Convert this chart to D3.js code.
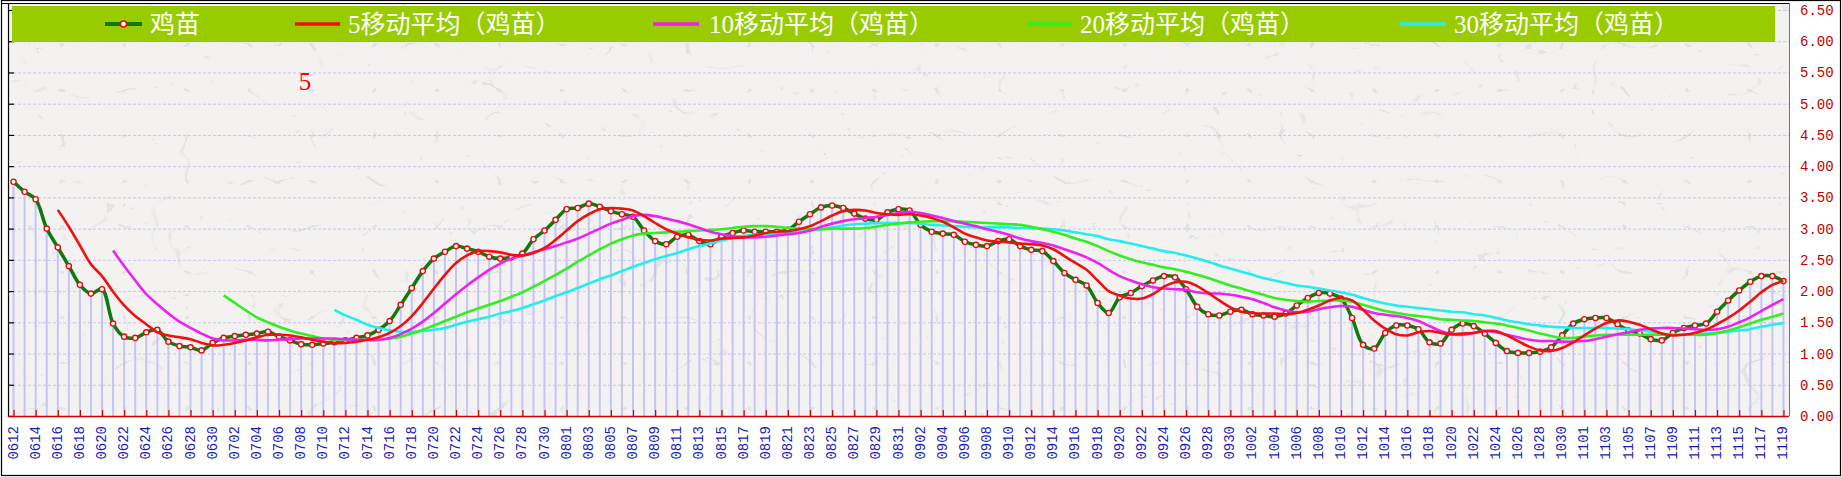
<!DOCTYPE html>
<html><head><meta charset="utf-8">
<script src="https://cdn.jsdelivr.net/npm/d3@7/dist/d3.min.js"></script>
<style>html,body{margin:0;padding:0;background:#fff;}svg{display:block;}</style>
</head><body>
<svg id="chart" width="1842" height="477"></svg>
<script>
// ---------------- data ----------------
const dates = [
"0612","0613","0614","0615","0616","0617","0618","0619","0620","0621","0622","0623","0624","0625","0626","0627","0628","0629","0630",
"0701","0702","0703","0704","0705","0706","0707","0708","0709","0710","0711","0712","0713","0714","0715","0716","0717","0718","0719","0720","0721","0722","0723","0724","0725","0726","0727","0728","0729","0730","0731",
"0801","0802","0803","0804","0805","0806","0807","0808","0809","0810","0811","0812","0813","0814","0815","0816","0817","0818","0819","0820","0821","0822","0823","0824","0825","0826","0827","0828","0829","0830","0831",
"0901","0902","0903","0904","0905","0906","0907","0908","0909","0910","0911","0912","0913","0914","0915","0916","0917","0918","0919","0920","0921","0922","0923","0924","0925","0926","0927","0928","0929","0930",
"1001","1002","1003","1004","1005","1006","1007","1008","1009","1010","1011","1012","1013","1014","1015","1016","1017","1018","1019","1020","1021","1022","1023","1024","1025","1026","1027","1028","1029","1030","1031",
"1101","1102","1103","1104","1105","1106","1107","1108","1109","1110","1111","1112","1113","1114","1115","1116","1117","1118","1119"];

const seedling = [
3.75,3.59,3.47,3.00,2.70,2.40,2.10,1.96,2.03,1.48,
1.27,1.25,1.34,1.38,1.19,1.12,1.10,1.05,1.17,1.25,
1.28,1.30,1.32,1.35,1.27,1.21,1.15,1.14,1.16,1.18,
1.21,1.25,1.29,1.38,1.52,1.78,2.05,2.32,2.52,2.63,
2.72,2.68,2.63,2.55,2.52,2.54,2.60,2.83,2.97,3.14,
3.31,3.33,3.40,3.35,3.28,3.23,3.19,2.97,2.80,2.75,
2.87,2.90,2.80,2.75,2.87,2.93,2.97,2.95,2.95,2.95,
2.98,3.11,3.23,3.34,3.37,3.33,3.24,3.16,3.14,3.26,
3.31,3.29,3.06,2.95,2.92,2.90,2.79,2.74,2.72,2.80,
2.83,2.72,2.66,2.64,2.48,2.29,2.18,2.09,1.81,1.65,
1.90,1.97,2.08,2.17,2.24,2.22,2.03,1.75,1.63,1.61,
1.67,1.70,1.63,1.61,1.59,1.64,1.77,1.89,1.97,1.96,
1.88,1.57,1.14,1.08,1.33,1.45,1.45,1.39,1.18,1.16,
1.38,1.48,1.44,1.32,1.17,1.04,1.01,1.01,1.03,1.10,
1.29,1.48,1.55,1.57,1.57,1.47,1.37,1.32,1.23,1.21,
1.33,1.41,1.45,1.48,1.67,1.85,2.01,2.15,2.24,2.24,
2.16];

const ma5 = [null,null,null,null,
3.30,3.03,2.73,2.43,2.24,1.99,
1.77,1.60,1.47,1.34,1.29,1.26,1.23,1.17,1.13,1.14,
1.17,1.21,1.26,1.30,1.30,1.29,1.26,1.22,1.19,1.17,
1.17,1.19,1.22,1.26,1.33,1.44,1.60,1.81,2.04,2.26,
2.45,2.57,2.64,2.64,2.62,2.58,2.57,2.61,2.69,2.82,
2.97,3.12,3.23,3.31,3.33,3.32,3.29,3.20,3.09,2.99,
2.92,2.86,2.82,2.81,2.84,2.85,2.86,2.89,2.93,2.95,
2.96,2.99,3.04,3.12,3.21,3.28,3.30,3.29,3.25,3.23,
3.22,3.23,3.21,3.17,3.11,3.02,2.92,2.86,2.81,2.79,
2.78,2.76,2.75,2.73,2.67,2.56,2.45,2.34,2.17,2.00,
1.93,1.88,1.88,1.95,2.07,2.14,2.15,2.08,1.97,1.85,
1.74,1.67,1.65,1.64,1.64,1.63,1.65,1.70,1.77,1.85,
1.89,1.85,1.70,1.53,1.40,1.31,1.29,1.34,1.36,1.33,
1.31,1.32,1.33,1.36,1.36,1.29,1.20,1.11,1.05,1.04,
1.09,1.18,1.29,1.40,1.49,1.53,1.51,1.46,1.39,1.32,
1.29,1.30,1.33,1.38,1.47,1.57,1.69,1.83,1.98,2.10,2.16];

const ma10 = [null,null,null,null,null,null,null,null,null,
2.65,
2.40,2.17,1.95,1.79,1.64,1.51,1.41,1.32,1.24,1.21,
1.21,1.22,1.22,1.21,1.22,1.23,1.24,1.24,1.24,1.24,
1.23,1.22,1.22,1.22,1.25,1.31,1.40,1.51,1.65,1.80,
1.95,2.09,2.22,2.34,2.44,2.52,2.57,2.62,2.67,2.72,
2.78,2.84,2.92,3.00,3.08,3.14,3.20,3.22,3.20,3.16,
3.12,3.07,3.01,2.95,2.91,2.88,2.86,2.86,2.87,2.89,
2.91,2.93,2.97,3.03,3.08,3.12,3.15,3.17,3.19,3.22,
3.25,3.27,3.25,3.21,3.17,3.12,3.08,3.04,2.99,2.95,
2.90,2.84,2.80,2.77,2.73,2.67,2.61,2.54,2.45,2.34,
2.24,2.17,2.11,2.06,2.04,2.03,2.02,1.98,1.96,1.96,
1.94,1.91,1.87,1.81,1.74,1.69,1.66,1.67,1.71,1.74,
1.76,1.75,1.70,1.65,1.62,1.60,1.57,1.52,1.44,1.36,
1.31,1.30,1.33,1.36,1.34,1.30,1.26,1.22,1.20,1.20,
1.19,1.19,1.20,1.23,1.27,1.31,1.34,1.38,1.40,1.41,
1.41,1.40,1.39,1.38,1.39,1.43,1.50,1.58,1.68,1.78,1.87];

const ma20 = [null,null,null,null,null,null,null,null,null,null,
null,null,null,null,null,null,null,null,null,
1.93,
1.81,1.69,1.58,1.50,1.43,1.37,1.32,1.28,1.24,1.22,
1.22,1.22,1.22,1.22,1.24,1.27,1.32,1.38,1.45,1.52,
1.59,1.66,1.72,1.78,1.84,1.91,1.98,2.07,2.16,2.26,
2.36,2.47,2.57,2.67,2.76,2.83,2.89,2.92,2.93,2.94,
2.95,2.96,2.97,2.98,2.99,3.01,3.03,3.04,3.04,3.03,
3.01,3.00,2.99,2.99,3.00,3.00,3.00,3.01,3.03,3.06,
3.08,3.10,3.11,3.12,3.12,3.12,3.11,3.10,3.09,3.08,
3.07,3.06,3.03,2.99,2.95,2.90,2.84,2.79,2.72,2.64,
2.57,2.51,2.46,2.42,2.38,2.35,2.31,2.26,2.21,2.15,
2.09,2.04,1.99,1.94,1.89,1.86,1.84,1.83,1.84,1.85,
1.85,1.83,1.78,1.73,1.68,1.65,1.62,1.60,1.58,1.55,
1.54,1.53,1.52,1.50,1.48,1.45,1.41,1.37,1.32,1.28,
1.25,1.25,1.27,1.29,1.30,1.30,1.30,1.30,1.30,1.30,
1.30,1.30,1.30,1.30,1.33,1.37,1.42,1.48,1.54,1.59,1.64];

const ma30 = [null,null,null,null,null,null,null,null,null,null,
null,null,null,null,null,null,null,null,null,null,
null,null,null,null,null,null,null,null,null,
1.70,
1.61,1.54,1.46,1.41,1.37,1.35,1.35,1.36,1.38,1.41,
1.46,1.51,1.55,1.59,1.64,1.68,1.73,1.79,1.85,1.92,
1.98,2.05,2.12,2.19,2.25,2.32,2.39,2.45,2.51,2.56,
2.61,2.67,2.72,2.76,2.81,2.85,2.88,2.90,2.91,2.92,
2.93,2.95,2.97,2.99,3.02,3.05,3.07,3.08,3.09,3.09,
3.09,3.09,3.08,3.06,3.05,3.04,3.03,3.02,3.02,3.02,
3.02,3.01,3.01,3.00,2.99,2.97,2.94,2.91,2.88,2.83,
2.80,2.76,2.72,2.68,2.64,2.61,2.57,2.52,2.47,2.41,
2.36,2.31,2.26,2.21,2.17,2.13,2.09,2.07,2.04,2.01,
1.98,1.94,1.89,1.84,1.80,1.77,1.75,1.73,1.71,1.69,
1.67,1.66,1.63,1.61,1.57,1.53,1.50,1.47,1.45,1.43,
1.42,1.41,1.41,1.41,1.41,1.40,1.39,1.37,1.35,1.32,
1.30,1.30,1.31,1.32,1.33,1.35,1.37,1.39,1.43,1.46,1.49];

const yTicks = [0,0.5,1,1.5,2,2.5,3,3.5,4,4.5,5,5.5,6,6.5];
const seriesNames = ["鸡苗","5移动平均（鸡苗）","10移动平均（鸡苗）","20移动平均（鸡苗）","30移动平均（鸡苗）"];
const annotation = "5";

// ---------------- layout / style ----------------
const W = 1842, H = 477;
const P = {l: 8, r: 1789, t: 3, b: 416};
const colors = {seed: "#0c7a0c", ma5: "#ee1111", ma10: "#ee22ee", ma20: "#33ee22", ma30: "#22eeee"};

const svg = d3.select("#chart");
svg.append("rect").attr("width", W).attr("height", H).attr("fill", "#ffffff");

const x = d3.scalePoint().domain(dates).range([P.l, P.r]).padding(0.5);
const y = d3.scaleLinear().domain([0, 6.5]).range([P.b, 10]);

// paper texture (thin faint fibres)
const defs = svg.append("defs");
const filt = defs.append("filter").attr("id", "paper").attr("x", 0).attr("y", 0)
  .attr("width", "100%").attr("height", "100%").attr("color-interpolation-filters", "sRGB");
filt.append("feTurbulence").attr("type", "turbulence").attr("baseFrequency", "0.016 0.022")
  .attr("numOctaves", 2).attr("seed", 5).attr("result", "t");
filt.append("feColorMatrix").attr("in", "t").attr("type", "matrix")
  .attr("values", "0 0 0 0 0.5  0 0 0 0 0.5  0 0 0 0 0.5  -6 0 0 0 0.28");

svg.append("rect").attr("x", P.l).attr("y", P.t).attr("width", P.r - P.l).attr("height", P.b - P.t)
  .attr("fill", "#f4f2f1");
svg.append("rect").attr("x", P.l).attr("y", P.t).attr("width", P.r - P.l).attr("height", P.b - P.t)
  .attr("fill", "#000").attr("filter", "url(#paper)").attr("opacity", 0.45);

// bars
svg.append("g").selectAll("rect").data(seedling).join("rect")
  .attr("x", (d, i) => x(dates[i]) - 1).attr("width", 2)
  .attr("y", d => y(d)).attr("height", d => y(0) - y(d))
  .attr("fill", "#c4c4f8");

// gridlines
svg.append("g").selectAll("line").data(yTicks.filter(t => t > 0)).join("line")
  .attr("x1", P.l).attr("x2", P.r).attr("y1", d => y(d) + 0.5).attr("y2", d => y(d) + 0.5)
  .attr("stroke", "#c6c6f0").attr("stroke-width", 1).attr("stroke-dasharray", "3,2");

// lines
const line = d3.line().defined(d => d != null)
  .x((d, i) => x(dates[i])).y(d => y(d)).curve(d3.curveCatmullRom.alpha(0.5));

svg.append("path").datum(seedling).attr("d", line).attr("fill", "none")
  .attr("stroke", colors.seed).attr("stroke-width", 3.5).attr("stroke-linejoin", "round");
svg.append("g").selectAll("circle").data(seedling).join("circle")
  .attr("cx", (d, i) => x(dates[i])).attr("cy", d => y(d)).attr("r", 2.6)
  .attr("fill", "#ffffff").attr("stroke", "#e01010").attr("stroke-width", 1.4);

[[ma30, colors.ma30], [ma20, colors.ma20], [ma10, colors.ma10], [ma5, colors.ma5]].forEach(([s, c]) => {
  svg.append("path").datum(s).attr("d", line).attr("fill", "none")
    .attr("stroke", c).attr("stroke-width", 2.6).attr("stroke-linejoin", "round");
});

// left axis
const gl = svg.append("g").attr("transform", `translate(${P.l},0)`);
gl.call(d3.axisRight(y).tickValues(yTicks).tickSize(6).tickFormat(""));
gl.select(".domain").remove();
gl.selectAll(".tick line").attr("stroke", "#000").attr("stroke-width", 1.2);
svg.append("line").attr("x1", P.l + 0.5).attr("x2", P.l + 0.5).attr("y1", P.t).attr("y2", P.b)
  .attr("stroke", "#000").attr("stroke-width", 1.2);

// right axis with labels
svg.append("line").attr("x1", P.r + 0.5).attr("x2", P.r + 0.5).attr("y1", P.t).attr("y2", P.b)
  .attr("stroke", "#707070").attr("stroke-width", 1);
const gr = svg.append("g").attr("transform", `translate(${P.r},0)`);
gr.call(d3.axisRight(y).tickValues(yTicks).tickSize(0).tickPadding(11).tickFormat(d3.format(".2f")));
gr.select(".domain").remove();
gr.selectAll(".tick text").attr("fill", "#c00000").attr("font-family", "'Liberation Mono', monospace")
  .attr("font-size", 14);

// x axis
const gx = svg.append("g").attr("transform", `translate(0,${P.b})`);
gx.call(d3.axisTop(x).tickValues(dates.filter((d, i) => i % 2 === 0)).tickSize(6).tickFormat(""));
gx.select(".domain").remove();
gx.selectAll(".tick line").attr("stroke", "#cc0000").attr("stroke-width", 1.2);
svg.append("line").attr("x1", P.l).attr("x2", P.r).attr("y1", P.b + 0.5).attr("y2", P.b + 0.5)
  .attr("stroke", "#cc0000").attr("stroke-width", 1.6);
svg.append("g").selectAll("text").data(dates.filter((d, i) => i % 2 === 0)).join("text")
  .attr("transform", d => `translate(${x(d)},${P.b + 10}) rotate(-90)`)
  .attr("text-anchor", "end").attr("dominant-baseline", "central")
  .attr("font-family", "'Liberation Mono', monospace").attr("font-size", 14)
  .attr("fill", "#1c1cb4").text(d => d);

// frame
svg.append("rect").attr("x", 1.5).attr("y", 0.5).attr("width", W - 3).attr("height", H - 2)
  .attr("fill", "none").attr("stroke", "#000").attr("stroke-width", 1.2);
svg.append("line").attr("x1", 1).attr("x2", P.r).attr("y1", P.t + 0.5).attr("y2", P.t + 0.5)
  .attr("stroke", "#000").attr("stroke-width", 1);

// legend
svg.append("rect").attr("x", 12).attr("y", 6).attr("width", 1763).attr("height", 36).attr("fill", "#99cc00");
const legLineX = [105, 295, 653, 1027, 1400];
const legLineW = [37, 45, 46, 45, 46];
const legTextX = [150, 348, 709, 1080, 1454];
const legColors = [colors.seed, colors.ma5, colors.ma10, colors.ma20, colors.ma30];
const lg = svg.append("g");
seriesNames.forEach((n, i) => {
  lg.append("line").attr("x1", legLineX[i]).attr("x2", legLineX[i] + legLineW[i]).attr("y1", 24).attr("y2", 24)
    .attr("stroke", legColors[i]).attr("stroke-width", i === 0 ? 4 : 3.5);
  if (i === 0) lg.append("circle").attr("cx", legLineX[i] + legLineW[i] / 2).attr("cy", 24).attr("r", 3)
    .attr("fill", "#fff").attr("stroke", "#e01010").attr("stroke-width", 1.5);
  lg.append("text").attr("x", legTextX[i]).attr("y", 24).attr("dominant-baseline", "central")
    .attr("font-family", "'Liberation Serif', 'Noto Sans CJK SC', serif").attr("font-size", 25)
    .attr("fill", "#ffffff").text(n);
});

// annotation
svg.append("text").attr("x", 305).attr("y", 90).attr("text-anchor", "middle")
  .attr("font-family", "'Liberation Serif', serif").attr("font-size", 25).attr("fill", "#ff0000").text(annotation);
</script>
</body></html>
